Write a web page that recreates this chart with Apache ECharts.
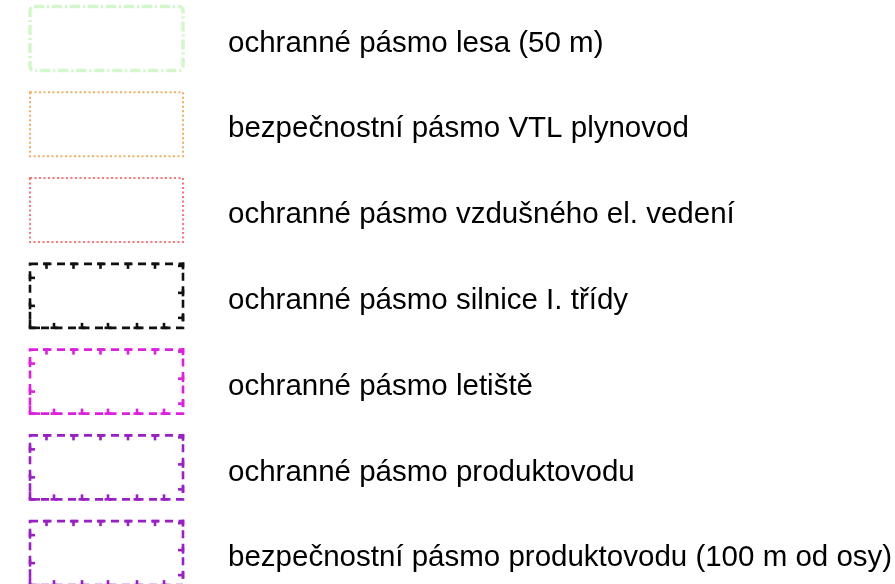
<!DOCTYPE html>
<html>
<head>
<meta charset="utf-8">
<script src="https://cdn.jsdelivr.net/npm/echarts@6/dist/echarts.min.js"></script>
<style>
  html, body { margin: 0; padding: 0; background: #fff; }
  #main { width: 895px; height: 584px; }
</style>
</head>
<body>
<div id="main"></div>
<script>
const labels = [
  'ochranné pásmo lesa (50 m)',
  'bezpečnostní pásmo VTL plynovod',
  'ochranné pásmo vzdušného el. vedení',
  'ochranné pásmo silnice I. třídy',
  'ochranné pásmo letiště',
  'ochranné pásmo produktovodu',
  'bezpečnostní pásmo produktovodu (100 m od osy)',
]
const strokeColors = ['#d2f8ca', '#f0a048', '#ff5c5c', '#111111', '#e01ee0', '#9a1fc6', '#9a1fc6']
const lineKinds = ['dashdot', 'dotted', 'dotted', 'ticked', 'ticked', 'ticked', 'ticked']

const chart = echarts.init(document.getElementById('main'), null, { renderer: 'canvas' })

const BOX_X = 30
const BOX_W = 153
const BOX_H = 64
const TEXT_X = 228

function tickLines(x0, y0, color) {
  const out = []
  const x1 = x0 + BOX_W
  const y1 = y0 + BOX_H
  const len = 5
  const half = 3.5
  const line = (ax, ay, bx, by) => ({
    type: 'line',
    shape: { x1: ax, y1: ay, x2: bx, y2: by },
    style: { stroke: color, lineWidth: 2.6 },
  })
  // top edge, ticks hang down
  ;[16.5, 43.5, 70.5, 98, 125].forEach(d => {
    out.push(line(x0 + d - half, y0, x0 + d + half, y0))
    out.push(line(x0 + d, y0, x0 + d, y0 + len))
  })
  // bottom edge, ticks point up
  ;[24, 52, 78, 107, 134].forEach(d => {
    out.push(line(x0 + d - half, y1, x0 + d + half, y1))
    out.push(line(x0 + d, y1, x0 + d, y1 - len))
  })
  // left edge, ticks point right
  ;[14, 42].forEach(d => {
    out.push(line(x0, y0 + d - half, x0, y0 + d + half))
    out.push(line(x0, y0 + d, x0 + len, y0 + d))
  })
  // right edge, ticks point left
  ;[2, 29, 54].forEach(d => {
    out.push(line(x1, y0 + d - half, x1, y0 + d + half))
    out.push(line(x1, y0 + d, x1 - len, y0 + d))
  })
  // bottom-left corner
  out.push(line(x0, y1 - 8, x0, y1))
  out.push(line(x0, y1, x0 + 10, y1))
  return out
}

function renderItem(params, api) {
  const i = api.value(0)
  const c = api.coord([0, i])
  const cy = c[1]
  const x0 = BOX_X
  const y0 = cy - BOX_H / 2
  const color = strokeColors[i]
  const kind = lineKinds[i]
  const children = []

  if (kind === 'dashdot') {
    children.push({
      type: 'rect',
      shape: { x: x0, y: y0, width: BOX_W, height: BOX_H, r: 4 },
      style: { fill: 'none', stroke: color, lineWidth: 3.5, lineDash: [10, 3, 2, 3] },
    })
  } else if (kind === 'dotted') {
    children.push({
      type: 'rect',
      shape: { x: x0, y: y0, width: BOX_W, height: BOX_H },
      style: { fill: 'none', stroke: color, lineWidth: 2, lineDash: [2, 2.5], opacity: 0.85 },
    })
  } else {
    children.push({
      type: 'rect',
      shape: { x: x0, y: y0, width: BOX_W, height: BOX_H },
      style: { fill: 'none', stroke: color, lineWidth: 2.6, lineDash: [8, 5.5] },
    })
    tickLines(x0, y0, color).forEach(l => children.push(l))
  }

  children.push({
    type: 'text',
    style: {
      x: TEXT_X,
      y: cy + 5,
      text: labels[i],
      fill: '#000',
      font: '29.5px "Liberation Sans", Arial, sans-serif',
      verticalAlign: 'middle',
      align: 'left',
    },
  })

  return { type: 'group', children }
}

const option = {
  animation: false,
  backgroundColor: '#fff',
  grid: { left: 0, right: 0, top: 0, bottom: 0 },
  xAxis: { type: 'value', min: 0, max: 895, show: false },
  yAxis: { type: 'value', min: -0.45, max: 6.36, inverse: true, show: false },
  series: [
    {
      type: 'custom',
      renderItem: renderItem,
      data: labels.map((l, i) => [i]),
      encode: { y: 0 },
      silent: true,
      clip: false,
    },
  ],
}

chart.setOption(option)
</script>
</body>
</html>
